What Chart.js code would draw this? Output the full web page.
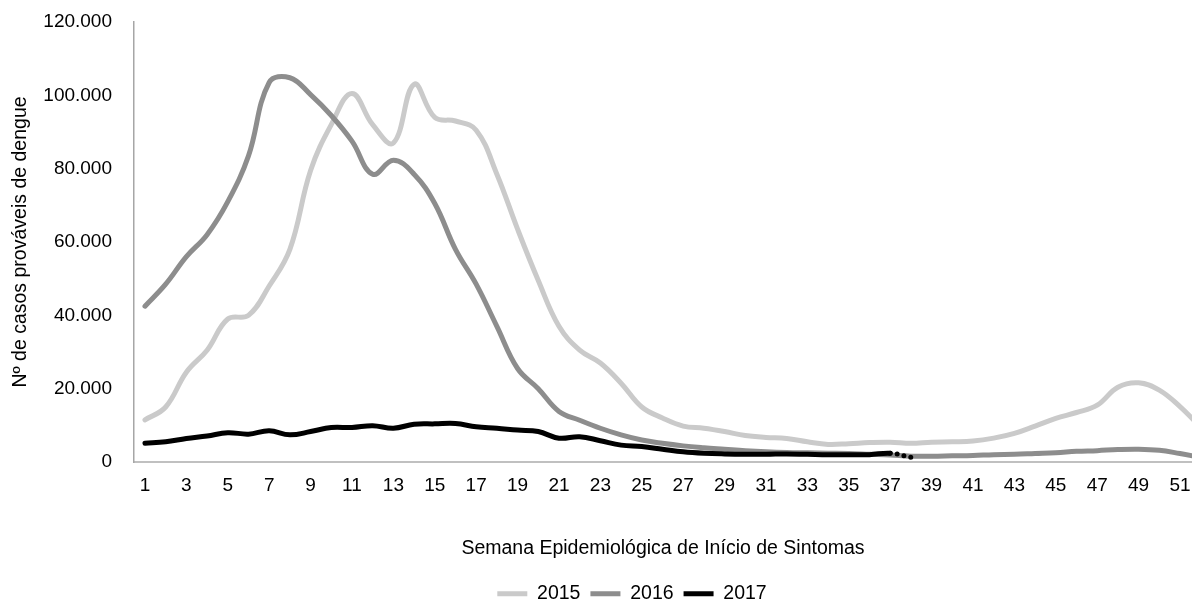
<!DOCTYPE html>
<html>
<head>
<meta charset="utf-8">
<script src="https://cdn.jsdelivr.net/npm/chart.js@4.4.1/dist/chart.umd.min.js"></script>
<style>
  html, body { margin: 0; padding: 0; background: #ffffff; overflow: hidden; }
  #wrap { width: 1192px; height: 606px; position: relative; }
</style>
</head>
<body>
<div id="wrap"><canvas id="c" width="1192" height="606"></canvas></div>
<script>
// ---- data ----
const weeks = [1,2,3,4,5,6,7,8,9,10,11,12,13,14,15,16,17,18,19,20,21,22,23,24,25,26,
               27,28,29,30,31,32,33,34,35,36,37,38,39,40,41,42,43,44,45,46,47,48,49,50,51,52];
const tickWeeks = [1,3,5,7,9,11,13,15,17,19,21,23,25,27,29,31,33,35,37,39,41,43,45,47,49,51];
const seriesNames = ['2015', '2016', '2017'];
const cases2015 = [11500,15000,24500,30500,39000,40000,48000,58000,79500,92000,
                   100500,92000,87000,103000,94000,93000,90500,78500,63500,49500,
                   37000,30500,27000,21500,15000,12000,9800,9200,8300,7200,
                   6700,6400,5500,4800,5000,5300,5400,5100,5400,5500,
                   5700,6500,7800,9800,11900,13500,15500,20400,21600,19600,
                   15100,9500];
const cases2016 = [42500,48500,56000,62000,71000,83500,103500,104800,100200,94500,
                   87500,78500,82300,78500,70500,58000,48500,37000,25500,20000,
                   13800,11400,9200,7400,6000,5100,4400,3900,3500,3100,
                   2800,2600,2500,2400,2300,2100,1900,1600,1600,1700,
                   1800,2000,2100,2300,2500,2900,3100,3400,3500,3200,
                   2300,1300];
const cases2017 = [5100,5500,6400,7100,8000,7600,8500,7400,8300,9400,
                   9400,9900,9200,10300,10400,10500,9600,9200,8700,8300,
                   6500,6900,5800,4600,4200,3500,2800,2400,2200,2100,
                   2100,2200,2100,2000,2000,2000,2400,1300];
const lastSolidWeek2017 = 37;   // after this week the 2017 line is dotted
const yTickValues = [0,20000,40000,60000,80000,100000,120000];

// ---- styles ----
const FONT = "'Liberation Sans', Arial, Helvetica, sans-serif";
const colors = ['#cacaca', '#8d8d8d', '#000000'];

function toPoints(values) {
  return values.map((v, i) => ({ x: weeks[i], y: v }));
}
function fmt(v) {
  return String(v).replace(/\B(?=(\d{3})+(?!\d))/g, '.');
}

const lineBase = {
  borderWidth: 5,
  pointRadius: 0,
  pointHoverRadius: 0,
  tension: 0.4,
  fill: false,
  borderCapStyle: 'round',
  borderJoinStyle: 'round'
};

const legendShift = {
  id: 'legendShift',
  afterLayout(chart) {
    const l = chart.legend;
    if (!l) return;
    l.left += 36; l.right += 36;
    l.top += 7.5; l.bottom += 7.5;
  }
};

Chart.defaults.font.family = FONT;
Chart.defaults.color = '#000000';

new Chart(document.getElementById('c'), {
  type: 'line',
  data: {
    datasets: [
      Object.assign({}, lineBase, {
        label: seriesNames[0], data: toPoints(cases2015),
        borderColor: colors[0], backgroundColor: colors[0], order: 3
      }),
      Object.assign({}, lineBase, {
        label: seriesNames[1], data: toPoints(cases2016),
        borderColor: colors[1], backgroundColor: colors[1], order: 2
      }),
      Object.assign({}, lineBase, {
        label: seriesNames[2], data: toPoints(cases2017),
        borderColor: colors[2], backgroundColor: colors[2], order: 1,
        segment: {
          borderDash: ctx => (weeks[ctx.p0DataIndex] >= lastSolidWeek2017 ? [0, 7] : undefined)
        }
      })
    ]
  },
  options: {
    responsive: false,
    animation: false,
    layout: { padding: { top: 22, left: 0, right: 0, bottom: 0 } },
    plugins: {
      tooltip: { enabled: false },
      legend: {
        position: 'bottom',
        labels: {
          usePointStyle: true,
          pointStyle: 'line',
          pointStyleWidth: 30,
          padding: 10,
          color: '#000000',
          font: { size: 19.5, family: FONT },
          sort: (a, b) => a.datasetIndex - b.datasetIndex
        }
      }
    },
    scales: {
      x: {
        type: 'linear',
        min: 0.47,
        max: 51.58,
        grid: { display: false, drawTicks: false },
        border: { display: true, color: '#c0c0c0', width: 2 },
        afterBuildTicks: scale => { scale.ticks = tickWeeks.map(v => ({ value: v })); },
        afterFit: scale => { scale.paddingLeft = 0; scale.paddingRight = 0; scale.height = 104.5; },
        ticks: {
          autoSkip: false,
          maxRotation: 0,
          padding: 12,
          color: '#000000',
          font: { size: 19, family: FONT },
          callback: v => String(v)
        },
        title: {
          display: true,
          text: 'Semana Epidemiológica de Início de Sintomas',
          color: '#000000',
          font: { size: 19.5, family: FONT },
          padding: { top: 0, bottom: 6 }
        }
      },
      y: {
        min: 0,
        max: 120000,
        grid: { display: false, drawTicks: false },
        border: { display: true, color: '#a6a6a6', width: 1.5 },
        afterBuildTicks: scale => { scale.ticks = yTickValues.map(v => ({ value: v })); },
        afterFit: scale => { scale.width = 134; scale.paddingTop = 0; scale.paddingBottom = 0; },
        ticks: {
          padding: 22,
          color: '#000000',
          font: { size: 19, family: FONT },
          callback: v => fmt(v)
        },
        title: {
          display: true,
          text: 'Nº de casos prováveis de dengue',
          color: '#000000',
          font: { size: 19.5, family: FONT },
          padding: { top: 9, bottom: 0 }
        }
      }
    }
  },
  plugins: [legendShift]
});
</script>
</body>
</html>
